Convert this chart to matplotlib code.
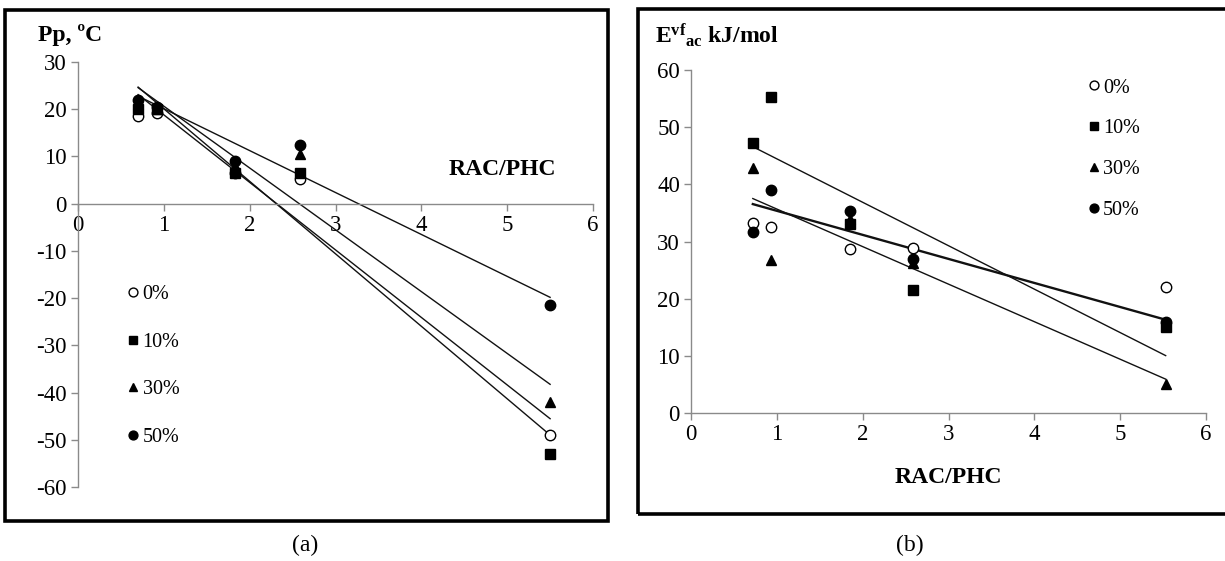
import numpy as np
import matplotlib
matplotlib.use("Agg")
import matplotlib.pyplot as plt
from matplotlib.patches import Rectangle

plt.rcParams['font.family'] = ['Liberation Serif', 'DejaVu Serif']
plt.rcParams['mathtext.fontset'] = 'custom'
plt.rcParams['mathtext.rm'] = 'Liberation Serif'
plt.rcParams['mathtext.bf'] = 'Liberation Serif:bold'
plt.rcParams['axes.unicode_minus'] = False

# (a) pour point vs RAC/PHC
x_a = [0.70, 0.92, 1.83, 2.59, 5.50]
pp_0 = [18.5, 19.3, 6.5, 5.2, -49.0]
pp_10 = [20.0, 20.0, 6.5, 6.5, -53.0]
pp_30 = [21.0, 20.0, 8.0, 10.6, -42.0]
pp_50 = [22.0, 20.5, 9.0, 12.5, -21.5]

# (b) activation energy vs RAC/PHC
x_b = [0.72, 0.93, 1.85, 2.59, 5.53]
ev_0 = [33.2, 32.6, 28.7, 28.8, 22.0]
ev_10 = [47.3, 55.2, 33.0, 21.5, 15.0]
ev_30 = [42.8, 26.8, 34.0, 26.3, 5.0]
ev_50 = [31.7, 39.0, 35.3, 27.0, 16.0]

labels = ['0%', '10%', '30%', '50%']
markers = [dict(marker='o', mfc='white', mec='black', mew=1.0, ms=7.5),
           dict(marker='s', mfc='black', mec='black', ms=7),
           dict(marker='^', mfc='black', mec='black', ms=7.5),
           dict(marker='o', mfc='black', mec='black', ms=7.5)]

fig = plt.figure(figsize=(12.25, 5.61), dpi=100)

# frames round each panel
fig.patches.append(Rectangle((0.0041, 0.0713), 0.4922, 0.9109, transform=fig.transFigure,
                             fill=False, lw=2.6, ec='black'))
fig.patches.append(Rectangle((0.5208, 0.0838), 0.5, 0.9002, transform=fig.transFigure,
                             fill=False, lw=2.6, ec='black'))

def style(ax):
    for s in ['top', 'right']:
        ax.spines[s].set_visible(False)
    for s in ['left', 'bottom']:
        ax.spines[s].set_color('#8a8a8a')
        ax.spines[s].set_linewidth(1.0)
    ax.tick_params(direction='out', length=5, width=1, color='#8a8a8a',
                   labelsize=16.5, pad=3)

def trend(ax, x, y, lw=1.0):
    k, b = np.polyfit(x, y, 1)
    xs = np.array([min(x), max(x)])
    ax.plot(xs, k * xs + b, color='#111111', lw=lw, zorder=2)

# ---- panel (a)
ax1 = fig.add_axes([0.0637, 0.1319, 0.4204, 0.7576])
style(ax1)
ax1.spines['bottom'].set_position(('data', 0))
ax1.set_xlim(0, 6)
ax1.set_ylim(-60, 30)
ax1.set_xticks(range(0, 7))
ax1.set_yticks(range(-60, 31, 10))
for ys in [pp_0, pp_10, pp_30, pp_50]:
    trend(ax1, x_a, ys)
for ys, lab, m in zip([pp_0, pp_10, pp_30, pp_50], labels, markers):
    ax1.plot(x_a, ys, ls='none', label=lab, zorder=3, **m)
ax1.legend(loc='center left', bbox_to_anchor=(0.092, 0.285), frameon=False,
           fontsize=14.5, handlelength=0.75, handletextpad=0.1, borderpad=0,
           borderaxespad=0, labelspacing=1.41, markerscale=0.85)
fig.text(0.031, 0.938, 'Pp, ºC', fontsize=17, fontweight='bold', va='center')
fig.text(0.410, 0.697, 'RAC/PHC', fontsize=17, fontweight='bold', ha='center', va='center')

# ---- panel (b)
ax2 = fig.add_axes([0.5641, 0.2638, 0.4204, 0.6114])
style(ax2)
ax2.set_xlim(0, 6)
ax2.set_ylim(0, 60)
ax2.set_xticks(range(0, 7))
ax2.set_yticks(range(0, 61, 10))
trend(ax2, x_b, ev_10)
trend(ax2, x_b, ev_30)
trend(ax2, x_b, ev_50, lw=1.7)
for ys, lab, m in zip([ev_0, ev_10, ev_30, ev_50], labels, markers):
    ax2.plot(x_b, ys, ls='none', label=lab, zorder=3, **m)
ax2.legend(loc='center left', bbox_to_anchor=(0.767, 0.769), frameon=False,
           fontsize=14.5, handlelength=0.75, handletextpad=0.1, borderpad=0,
           borderaxespad=0, labelspacing=1.08, markerscale=0.85)
fig.text(0.535, 0.938, r'$\mathbf{E^{vf}{}_{ac}}$ kJ/mol', fontsize=17,
         fontweight='bold', va='center')
fig.text(0.774, 0.148, 'RAC/PHC', fontsize=17, fontweight='bold', ha='center', va='center')

# panel captions
fig.text(0.249, 0.027, '(a)', fontsize=17, ha='center', va='center')
fig.text(0.743, 0.027, '(b)', fontsize=17, ha='center', va='center')

fig.savefig('out.png', dpi=100)
